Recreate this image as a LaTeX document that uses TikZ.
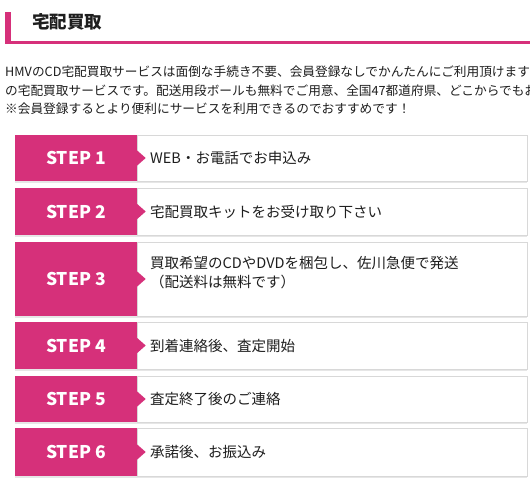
\documentclass[tikz,border=0pt]{standalone}
\usepackage{fontspec}
\setmainfont{Noto Sans CJK JP}
\definecolor{hmvpink}{RGB}{214,48,122}
\definecolor{txt}{RGB}{30,30,30}
\definecolor{bord}{RGB}{216,216,216}
\definecolor{shadegray}{RGB}{230,230,230}
\tikzset{
  pinkbox/.style={fill=hmvpink, draw=none, inner sep=0pt, minimum width=122pt,
    text=white, font={\fontsize{17.5}{21}\selectfont\bfseries}},
  whitebox/.style={fill=white, draw=bord, line width=0.8pt, inner sep=0pt,
    minimum width=390pt, anchor=west},
  steptext/.style={anchor=west, inner sep=0pt, text=txt, align=left,
    font={\fontsize{14.5}{19.5}\selectfont}},
  paratext/.style={anchor=west, inner sep=0pt, text=txt,
    font={\fontsize{12.68}{18}\selectfont}},
  rowshadow/.style={draw=shadegray, line width=1.6pt},
}
\newcommand{\steprow}[4]{% name, center y, height, label
  \draw[rowshadow] (15,#2+#3/2+1.2) -- (527,#2+#3/2+1.2);
  \node[whitebox, minimum height=#3 pt] (w#1) at (137,#2) {};
  \node[pinkbox, minimum height=#3 pt] (s#1) at (76,#2) {#4};
  \fill[hmvpink] ([yshift=7.5pt]s#1.east) -- ([xshift=8.5pt]s#1.east) -- ([yshift=-7.5pt]s#1.east) -- cycle;
}
\begin{document}
\begin{tikzpicture}[x=1pt,y=-1pt]
\useasboundingbox (0,0) rectangle (530,488);
\fill[white] (0,0) rectangle (530,488);
% header
\fill[hmvpink] (5,40.5) rectangle (530,44);
\fill[hmvpink] (5,12) rectangle (11,44);
\node[anchor=west, inner sep=0pt, text=txt, font={\fontsize{17.5}{21}\selectfont\bfseries}] (title) at (32,22) {宅配買取};
% paragraph
\begin{scope}
\clip (0,0) rectangle (530,488);
\node[paratext] (p1) at (5,72) {HMVのCD宅配買取サービスは面倒な手続き不要、会員登録なしでかんたんにご利用頂けます};
\node[paratext] (p2) at (5,90.5) {の宅配買取サービスです。配送用段ボールも無料でご用意、全国47都道府県、どこからでもお};
\node[paratext] (p3) at (5,109) {※会員登録するとより便利にサービスを利用できるのでおすすめです！};
\end{scope}
% steps
\steprow{1}{158}{46}{STEP 1}
\node[steptext] (t1) at (150,158) {WEB・お電話でお申込み};
\steprow{2}{211.5}{47}{STEP 2}
\node[steptext] (t2) at (150,211.5) {宅配買取キットをお受け取り下さい};
\steprow{3}{279}{74}{STEP 3}
\node[steptext] (t3) at (150,272.5) {買取希望のCDやDVDを梱包し、佐川急便で発送\\（配送料は無料です）};
\steprow{4}{345.5}{47}{STEP 4}
\node[steptext] (t4) at (150,345.5) {到着連絡後、査定開始};
\steprow{5}{399}{46}{STEP 5}
\node[steptext] (t5) at (150,399) {査定終了後のご連絡};
\steprow{6}{452}{48}{STEP 6}
\node[steptext] (t6) at (150,452) {承諾後、お振込み};
\end{tikzpicture}
\end{document}
